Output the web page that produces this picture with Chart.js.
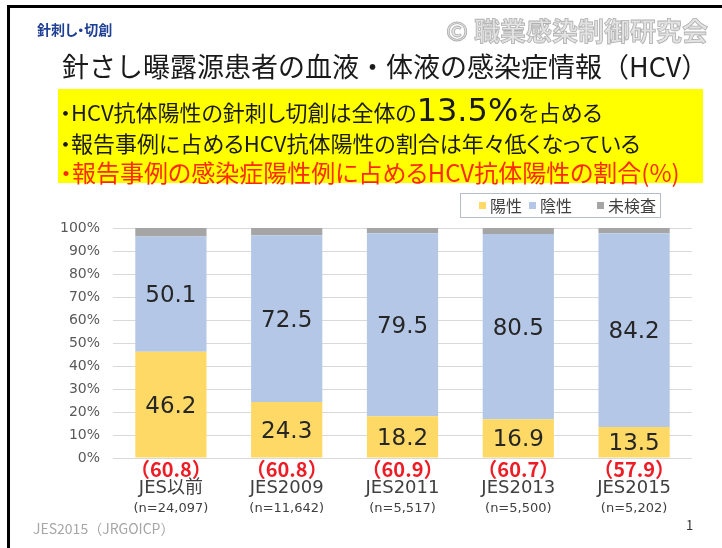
<!DOCTYPE html>
<html>
<head>
<meta charset="utf-8">
<script src="https://cdn.jsdelivr.net/npm/chart.js"></script>
<style>
html, body { margin: 0; padding: 0; background: #fff; }
#slide { position: relative; width: 722px; height: 548px; overflow: hidden; font-family: "Noto Sans CJK JP", "Noto Sans", sans-serif; }
#frame { position: absolute; left: 7px; top: 5px; width: 740px; height: 560px; border-left: 3px solid #000; border-top: 3px solid #000; }
#c { position: absolute; left: 0; top: 0; }
.t { position: absolute; white-space: nowrap; }
#header { left: 37px; top: 19px; font-size: 14px; font-weight: bold; color: #1f3f94; line-height: 20px; font-feature-settings: "palt"; }
#mark { left: 446px; top: 15px; font-size: 26px; font-weight: bold; color: #e2e2e2; line-height: 30px; -webkit-text-stroke: 0.8px #b0b0b0; }
#title { left: 62px; top: 48px; font-size: 27px; color: #1a1a1a; line-height: 36px; }
#note { position: absolute; left: 58px; top: 89px; width: 645px; height: 94px; background: #ffff00; }
.line { position: absolute; left: 2px; font-size: 22px; line-height: 30px; color: #1a1a1a; white-space: nowrap; font-feature-settings: "palt"; }
.big { font-size: 32px; font-family: "DejaVu Sans", sans-serif; }
#legend { position: absolute; left: 460px; top: 193px; width: 199px; height: 23px; border: 1px solid #b7bccb; font-size: 16px; color: #404040; line-height: 23px; }
.item { position: absolute; top: 0; }
.sw { display: inline-block; width: 7px; height: 7px; margin-right: 4px; vertical-align: 3px; }
#foot { left: 33px; top: 518px; font-size: 14px; color: #a6a6a6; line-height: 20px; }
#page { left: 686px; top: 516px; font-size: 13px; color: #333; line-height: 18px; }
</style>
</head>
<body>
<div id="slide">
  <canvas id="c" width="722" height="548"></canvas>
  <div id="frame"></div>
  <div class="t" id="header">針刺し・切創</div>
  <div class="t" id="mark">© 職業感染制御研究会</div>
  <div class="t" id="title">針さし曝露源患者の血液・体液の感染症情報（HCV）</div>
  <div id="note">
    <div class="line" style="top:6px">・HCV抗体陽性の針刺し切創は全体の<span class="big">13.5%</span>を占める</div>
    <div class="line" style="top:38px">・報告事例に占めるHCV抗体陽性の割合は年々低くなっている</div>
    <div class="line" style="top:68px; font-size:24px; color:#ff2a00">・報告事例の感染症陽性例に占めるHCV抗体陽性の割合(%)</div>
  </div>
  <div id="legend"></div>
  <div class="t" id="foot">JES2015（JRGOICP）</div>
  <div class="t" id="page">1</div>
</div>
<script>
const categories = ["JES以前", "JES2009", "JES2011", "JES2013", "JES2015"];
const sampleSizes = ["(n=24,097)", "(n=11,642)", "(n=5,517)", "(n=5,500)", "(n=5,202)"];
const infectedShare = ["60.8", "60.8", "60.9", "60.7", "57.9"];
const seriesNames = ["陽性", "陰性", "未検査"];
const hcvPositive = [46.2, 24.3, 18.2, 16.9, 13.5];
const hcvNegative = [50.1, 72.5, 79.5, 80.5, 84.2];
const notTested = [3.7, 3.2, 2.3, 2.6, 2.3];
const seriesColors = ["#ffd966", "#b4c7e7", "#a5a5a5"];

// legend built from the series names/colors
const legendPos = [18, 68, 136];
const legend = document.getElementById('legend');
seriesNames.forEach((name, i) => {
    const it = document.createElement('span');
    it.className = 'item';
    it.style.left = legendPos[i] + 'px';
    it.innerHTML = '<span class="sw" style="background:' + seriesColors[i] + '"></span>' + name;
    legend.appendChild(it);
});

/*----------------------------------------------------------------*/
const segmentLabels = {
    id: 'segmentLabels',
    afterDatasetsDraw(chart) {
        const { ctx } = chart;
        ctx.save();
        ctx.font = '23px "DejaVu Sans"';
        ctx.fillStyle = '#262626';
        ctx.textAlign = 'center';
        ctx.textBaseline = 'middle';
        [0, 1].forEach(di => {
            chart.getDatasetMeta(di).data.forEach((bar, i) => {
                const v = chart.data.datasets[di].data[i];
                ctx.fillText(v.toFixed(1), bar.x, (bar.y + bar.base) / 2 + 2);
            });
        });
        ctx.restore();
    }
};

const xLabels = {
    id: 'xLabels',
    afterDraw(chart) {
        const { ctx, chartArea } = chart;
        const xs = chart.scales.x;
        ctx.save();
        ctx.textAlign = 'center';
        ctx.textBaseline = 'middle';
        categories.forEach((cat, i) => {
            const x = xs.getPixelForValue(i);
            ctx.font = 'bold 20px "Noto Sans CJK JP"';
            ctx.fillStyle = '#ee1c25';
            ctx.fillText('（' + infectedShare[i] + '）', x, chartArea.bottom + 11);
            ctx.font = '18px "DejaVu Sans", "Noto Sans CJK JP"';
            ctx.fillStyle = '#404040';
            ctx.fillText(cat, x, chartArea.bottom + 30);
            ctx.font = '13px "DejaVu Sans"';
            ctx.fillText(sampleSizes[i], x, chartArea.bottom + 51);
        });
        ctx.restore();
    }
};

new Chart(document.getElementById('c'), {
    type: 'bar',
    data: {
        labels: categories,
        datasets: [
            { label: seriesNames[0], data: hcvPositive, backgroundColor: seriesColors[0] },
            { label: seriesNames[1], data: hcvNegative, backgroundColor: seriesColors[1] },
            { label: seriesNames[2], data: notTested, backgroundColor: seriesColors[2] }
        ]
    },
    options: {
        responsive: false,
        animation: false,
        categoryPercentage: 1,
        barPercentage: 0.615,
        layout: { padding: { left: 0, right: 30, top: 228, bottom: 0 } },
        plugins: { legend: { display: false }, tooltip: { enabled: false } },
        scales: {
            x: {
                stacked: true,
                grid: { display: false },
                border: { display: false },
                ticks: { display: false },
                afterFit(s) { s.height = 90; }
            },
            y: {
                stacked: true,
                min: 0,
                max: 100,
                ticks: {
                    stepSize: 10,
                    padding: 13,
                    color: '#595959',
                    font: { family: 'DejaVu Sans', size: 14 },
                    callback: v => v + '%'
                },
                grid: { color: '#d9d9d9', drawTicks: false },
                border: { display: false },
                afterFit(s) { s.width = 113; }
            }
        }
    },
    plugins: [segmentLabels, xLabels]
});
</script>
</body>
</html>
